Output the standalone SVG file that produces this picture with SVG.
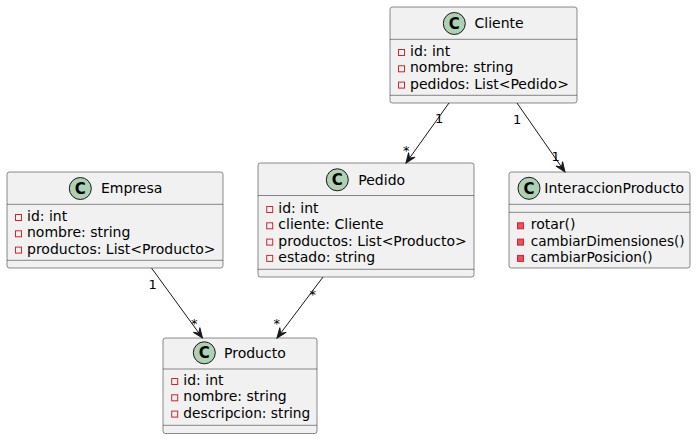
<svg xmlns="http://www.w3.org/2000/svg" width="696" height="439" viewBox="0 0 696 439">
<style>
.box{fill:#F1F1F1;stroke:#181818;stroke-width:0.5}
.div{stroke:#181818;stroke-width:0.5}
.circ{fill:#ADD1B2;stroke:#181818;stroke-width:1}
.cl{font-family:"DejaVu Sans",sans-serif;font-size:15px;font-weight:bold;fill:#000;text-anchor:middle}
.name{font-family:"DejaVu Sans",sans-serif;font-size:14px;fill:#000}
.attr{font-family:"DejaVu Sans",sans-serif;font-size:14px;fill:#000}
.fld{fill:none;stroke:#C82930;stroke-width:1}
.mth{fill:#F24D5C;stroke:#C82930;stroke-width:1}
.edge{stroke:#181818;stroke-width:1;fill:none}
.lbl{font-family:"DejaVu Sans",sans-serif;font-size:13px;fill:#000}
</style>
<defs>
<marker id="arr" markerUnits="userSpaceOnUse" markerWidth="12" markerHeight="10" viewBox="-11 -5 12 10" refX="0" refY="0" orient="auto">
<path d="M0,0 L-10,-4 L-6,0 L-10,4 Z" fill="#181818" stroke="#181818" stroke-width="1"/>
</marker>
</defs>
<g id="Cliente">
<rect class="box" x="390" y="7" width="187" height="96" rx="2.5"/>
<circle class="circ" cx="454.3" cy="23.5" r="11"/>
<text class="cl" x="454.3" y="28.8">C</text>
<text class="name" x="474.5" y="28.3">Cliente</text>
<line class="div" x1="390" y1="39.3" x2="577" y2="39.3"/>
<rect class="fld" x="398.5" y="49.5" width="6" height="6"/>
<text class="attr" x="410" y="56">id: int</text>
<rect class="fld" x="398.5" y="65.8" width="6" height="6"/>
<text class="attr" x="410" y="72.3">nombre: string</text>
<rect class="fld" x="398.5" y="82.1" width="6" height="6"/>
<text class="attr" x="410" y="88.6">pedidos: List&lt;Pedido&gt;</text>
<line class="div" x1="390" y1="95.3" x2="577" y2="95.3"/>
</g>
<g id="Empresa">
<rect class="box" x="7" y="172" width="216" height="96" rx="2.5"/>
<circle class="circ" cx="80.3" cy="188.5" r="11"/>
<text class="cl" x="80.3" y="193.8">C</text>
<text class="name" x="101" y="193.3">Empresa</text>
<line class="div" x1="7" y1="204.3" x2="223" y2="204.3"/>
<rect class="fld" x="15.5" y="214.5" width="6" height="6"/>
<text class="attr" x="27" y="221">id: int</text>
<rect class="fld" x="15.5" y="230.8" width="6" height="6"/>
<text class="attr" x="27" y="237.3">nombre: string</text>
<rect class="fld" x="15.5" y="247.1" width="6" height="6"/>
<text class="attr" x="27" y="253.6">productos: List&lt;Producto&gt;</text>
<line class="div" x1="7" y1="260.3" x2="223" y2="260.3"/>
</g>
<g id="Pedido">
<rect class="box" x="258" y="163" width="216" height="114" rx="2.5"/>
<circle class="circ" cx="337.3" cy="179.8" r="11"/>
<text class="cl" x="337.3" y="185.1">C</text>
<text class="name" x="358.3" y="185">Pedido</text>
<line class="div" x1="258" y1="195.5" x2="474" y2="195.5"/>
<rect class="fld" x="266.7" y="206.5" width="6" height="6"/>
<text class="attr" x="278.3" y="213">id: int</text>
<rect class="fld" x="266.7" y="222.8" width="6" height="6"/>
<text class="attr" x="278.3" y="229.3">cliente: Cliente</text>
<rect class="fld" x="266.7" y="239.1" width="6" height="6"/>
<text class="attr" x="278.3" y="245.6">productos: List&lt;Producto&gt;</text>
<rect class="fld" x="266.7" y="255.4" width="6" height="6"/>
<text class="attr" x="278.3" y="261.9">estado: string</text>
<line class="div" x1="258" y1="269.3" x2="474" y2="269.3"/>
</g>
<g id="InteraccionProducto">
<rect class="box" x="509" y="172" width="181" height="96" rx="2.5"/>
<circle class="circ" cx="529" cy="188.3" r="11"/>
<text class="cl" x="529" y="193.6">C</text>
<text class="name" x="544.3" y="193.3">InteraccionProducto</text>
<line class="div" x1="509" y1="204.3" x2="690" y2="204.3"/>
<line class="div" x1="509" y1="212.3" x2="690" y2="212.3"/>
<rect class="mth" x="517.5" y="222.8" width="6" height="6"/>
<text class="attr" x="530.7" y="229.3">rotar()</text>
<rect class="mth" x="517.5" y="239.1" width="6" height="6"/>
<text class="attr" x="530.7" y="245.6" textLength="154" lengthAdjust="spacingAndGlyphs">cambiarDimensiones()</text>
<rect class="mth" x="517.5" y="255.4" width="6" height="6"/>
<text class="attr" x="530.7" y="261.9" textLength="122" lengthAdjust="spacingAndGlyphs">cambiarPosicion()</text>
</g>
<g id="Producto">
<rect class="box" x="163" y="338" width="154" height="95.5" rx="2.5"/>
<circle class="circ" cx="204.3" cy="352.8" r="11"/>
<text class="cl" x="204.3" y="358.1">C</text>
<text class="name" x="224" y="357.5">Producto</text>
<line class="div" x1="163" y1="369" x2="317" y2="369"/>
<rect class="fld" x="171.7" y="378.5" width="6" height="6"/>
<text class="attr" x="183.3" y="385">id: int</text>
<rect class="fld" x="171.7" y="394.8" width="6" height="6"/>
<text class="attr" x="183.3" y="401.3">nombre: string</text>
<rect class="fld" x="171.7" y="411.1" width="6" height="6"/>
<text class="attr" x="183.3" y="417.6" textLength="127" lengthAdjust="spacingAndGlyphs">descripcion: string</text>
<line class="div" x1="163" y1="425.3" x2="317" y2="425.3"/>
</g>
<g id="connectors">
<line class="edge" x1="449" y1="103" x2="406" y2="163" marker-end="url(#arr)"/>
<text class="lbl" x="435" y="123">1</text>
<text class="lbl" x="403" y="155">*</text>
<line class="edge" x1="517" y1="103" x2="565" y2="172" marker-end="url(#arr)"/>
<text class="lbl" x="513" y="124">1</text>
<text class="lbl" x="551.5" y="161">1</text>
<line class="edge" x1="151.5" y1="268" x2="202.5" y2="338" marker-end="url(#arr)"/>
<text class="lbl" x="148.5" y="289">1</text>
<text class="lbl" x="191" y="328">*</text>
<line class="edge" x1="323" y1="277" x2="277" y2="338" marker-end="url(#arr)"/>
<text class="lbl" x="309.5" y="299">*</text>
<text class="lbl" x="273.5" y="328">*</text>
</g>
</svg>
